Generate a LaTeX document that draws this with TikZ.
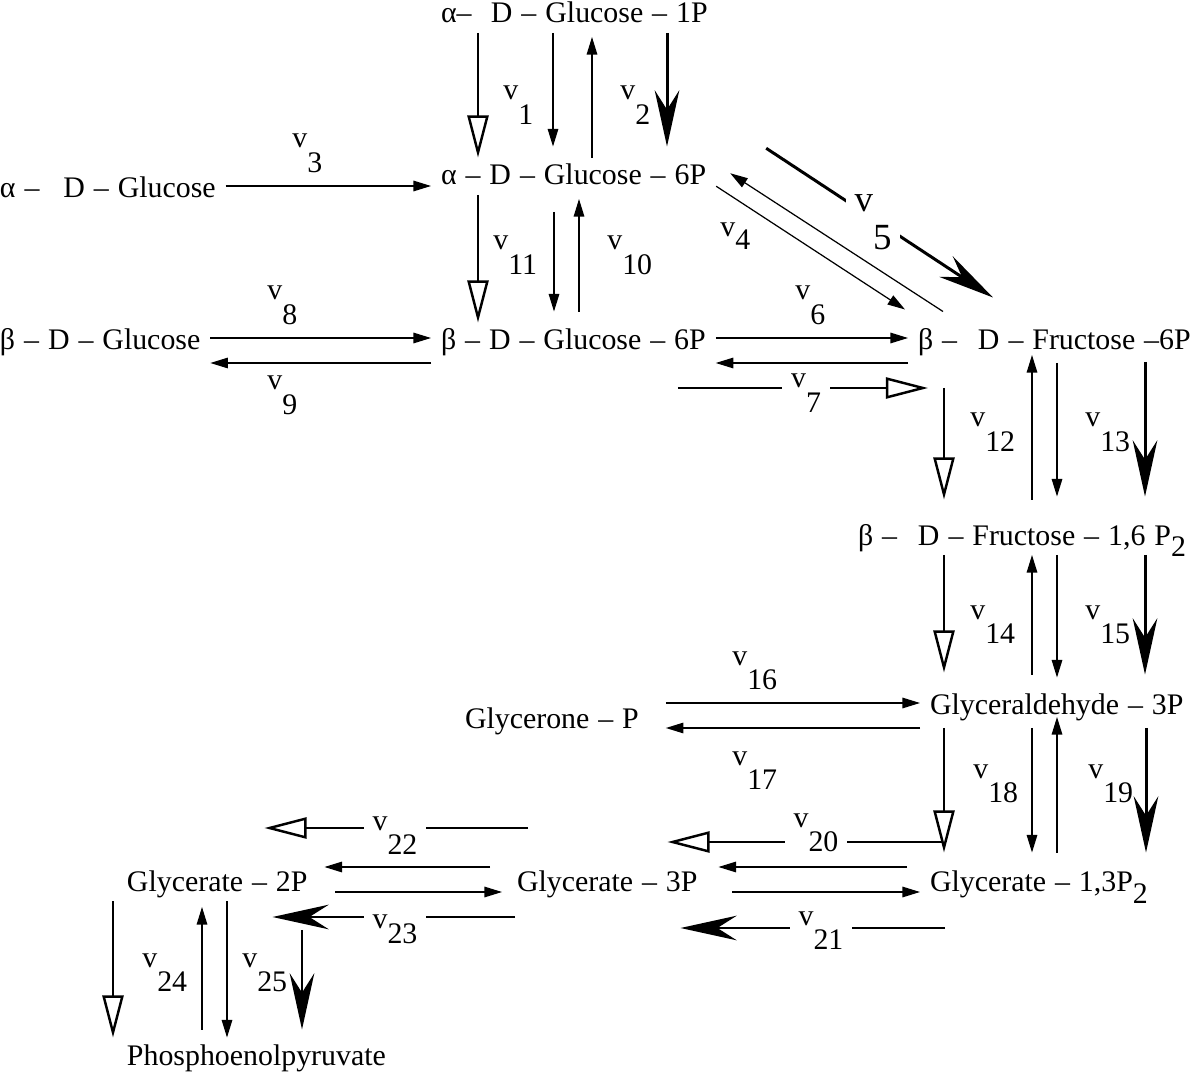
\documentclass[tikz,border=0pt]{standalone}
\usepackage{fontspec}
\setmainfont{Liberation Serif}[WordSpace=1.2]
\usetikzlibrary{arrows.meta}
\newcommand{\rate}[2][0.5cm]{v\raisebox{-#1}{#2}}
\newcommand{\lowsub}[1]{\raisebox{-0.24cm}{#1}}
\tikzset{
species/.style={anchor=base west, inner xsep=0.2cm, inner ysep=0.2cm,
    text height=0.35cm, text depth=0pt, outer sep=0pt},
rlab/.style={anchor=base west, inner sep=0pt},
glab/.style={anchor=base, inner xsep=5pt, inner ysep=1pt, fill=white},
fl/.style={line width=0.7pt, -{Triangle[length=10pt,width=6pt]}},
op/.style={line width=1.4pt, -{Triangle[open,length=24pt,width=12pt]}},
bk/.style={line width=1.7pt, -{Stealth[length=32pt,width=14pt,inset=11pt]}},
}

\begin{document}
\begin{tikzpicture}[x=0.02cm, y=-0.02cm, font=\fontsize{17}{20}\selectfont]
    \useasboundingbox (0,0) rectangle (1200,1077);
    \node[species] (g1p) at (431,23) {α--\hspace{0.65em}D -- Glucose -- 1P};
    \node[species] (g6pa) at (431,185) {α -- D -- Glucose -- 6P};
    \node[species] (aglc) at (-10,198) {α --\hspace{0.8em}D -- Glucose};
    \node[species] (bglc) at (-10,350) {β -- D -- Glucose};
    \node[species] (g6pb) at (431,350) {β -- D -- Glucose -- 6P};
    \node[species] (f6p) at (908,350) {β --\hspace{0.7em}D -- Fructose --6P};
    \node[species] (fbp) at (848,545) {β --\hspace{0.7em}D -- Fructose -- 1,6 P\lowsub{2}};
    \node[species] (dhap) at (455,728) {Glycerone -- P};
    \node[species] (gap) at (920,714) {Glyceraldehyde -- 3P};
    \node[species] (pg2) at (117,891) {Glycerate -- 2P};
    \node[species] (pg3) at (507,891) {Glycerate -- 3P};
    \node[species] (bpg) at (920,891) {Glycerate -- 1,3P\lowsub{2}};
    \node[species] (pep) at (117,1065) {Phosphoenolpyruvate};

    \draw[op] (478,0 |- g1p.south) -- (478,0 |- g6pa.north);
    \draw[fl, shorten >=0.22cm] (553,0 |- g1p.south) -- (553,0 |- g6pa.north);
    \draw[fl, shorten >=0.08cm] (592,0 |- g6pa.north) -- (592,0 |- g1p.south);
    \draw[bk, shorten >=0.22cm] (667,0 |- g1p.south) -- (667,0 |- g6pa.north);

    \draw[op] (478,0 |- g6pa.south) -- (478,0 |- g6pb.north);
    \draw[fl, shorten <=0.34cm, shorten >=0.22cm] (554,0 |- g6pa.south) -- (554,0 |- g6pb.north);
    \draw[fl, shorten <=0.22cm, shorten >=0.08cm] (579,0 |- g6pb.north) -- (579,0 |- g6pa.south);

    \draw[fl] (aglc.east |- 0,186) -- (g6pa.west |- 0,186);
    \draw[fl] (bglc.east |- 0,338) -- (g6pb.west |- 0,338);
    \draw[fl] (g6pb.west |- 0,363) -- (bglc.east |- 0,363);

    \draw[fl] (g6pb.east |- 0,338) -- (f6p.west |- 0,338);
    \draw[fl] (f6p.west |- 0,363) -- (g6pb.east |- 0,363);
    \draw[op, shorten <=-0.76cm, shorten >=-0.4cm] (g6pb.east |- 0,388) -- (f6p.west |- 0,388);

    \draw[bk] ([shift={(50,-28)}]g6pa.east) -- ([shift={(85,-25)}]f6p.north west);
    \node[glab, font=\fontsize{21}{24}\selectfont] (r5) at (873,212) {\rate[0.76cm]{5}};
    \draw[fl] ([shift={(35,-11)}]f6p.north west) -- ([shift={(14,-3)}]g6pa.east);
    \draw[fl] ([shift={(0,10)}]g6pa.east) -- ([shift={(-3,-13)}]f6p.north west);

    \draw[op, shorten <=0.56cm, shorten >=0.36cm] (944,0 |- f6p.south) -- (944,0 |- fbp.north);
    \draw[fl, shorten <=0.36cm, shorten >=-0.1cm] (1032,0 |- fbp.north) -- (1032,0 |- f6p.south);
    \draw[fl, shorten <=0.06cm, shorten >=0.42cm] (1057,0 |- f6p.south) -- (1057,0 |- fbp.north);
    \draw[bk, shorten <=0.04cm, shorten >=0.42cm] (1145,0 |- f6p.south) -- (1145,0 |- fbp.north);

    \draw[op, shorten >=0.28cm] (944,0 |- fbp.south) -- (944,0 |- gap.north);
    \draw[fl, shorten <=0.24cm] (1032,0 |- gap.north) -- (1032,0 |- fbp.south);
    \draw[fl, shorten >=0.18cm] (1057,0 |- fbp.south) -- (1057,0 |- gap.north);
    \draw[bk, shorten >=0.24cm] (1145,0 |- fbp.south) -- (1145,0 |- gap.north);

    \draw[op, shorten <=0.08cm, shorten >=0.22cm] (944,0 |- gap.south) -- (944,0 |- bpg.north);
    \draw[fl, shorten <=0.08cm, shorten >=0.22cm] (1032,0 |- gap.south) -- (1032,0 |- bpg.north);
    \draw[fl, shorten <=0.22cm, shorten >=-0.14cm] (1057,0 |- bpg.north) -- (1057,0 |- gap.south);
    \draw[bk, shorten <=0.08cm, shorten >=0.22cm] (1146,0 |- gap.south) -- (1146,0 |- bpg.north);

    \draw[fl, shorten <=0.34cm] (dhap.east |- 0,703) -- (gap.west |- 0,703);
    \draw[fl, shorten >=0.34cm] (gap.west |- 0,728) -- (dhap.east |- 0,728);

    \draw[op, shorten <=-0.46cm, shorten >=-0.8cm] (bpg.west |- 0,842) -- (pg3.east |- 0,842);
    \draw[fl, shorten <=0.26cm, shorten >=0.22cm] (bpg.west |- 0,867) -- (pg3.east |- 0,867);
    \draw[fl, shorten <=0.5cm] (pg3.east |- 0,892) -- (bpg.west |- 0,892);
    \draw[bk, shorten <=-0.5cm, shorten >=-0.54cm] (bpg.west |- 0,928) -- (pg3.east |- 0,928);

    \draw[op, shorten <=-0.42cm, shorten >=-1.06cm] (pg3.west |- 0,828) -- (pg2.east |- 0,828);
    \draw[fl, shorten <=0.34cm, shorten >=0.14cm] (pg3.west |- 0,867) -- (pg2.east |- 0,867);
    \draw[fl, shorten <=0.36cm, shorten >=0.1cm] (pg2.east |- 0,892) -- (pg3.west |- 0,892);
    \draw[bk, shorten <=-0.16cm, shorten >=-0.9cm] (pg3.west |- 0,917) -- (pg2.east |- 0,917);

    \draw[op] (113,0 |- pg2.south) -- (113,0 |- pep.north);
    \draw[fl, shorten <=0.16cm, shorten >=0.12cm] (202,0 |- pep.north) -- (202,0 |- pg2.south);
    \draw[fl] (227,0 |- pg2.south) -- (227,0 |- pep.north);
    \draw[bk, shorten <=0.58cm, shorten >=0.16cm] (302,0 |- pg2.south) -- (302,0 |- pep.north);

    \node[rlab] (r1) at (503,100) {\rate{1}};
    \node[rlab] (r2) at (620,100) {\rate{2}};
    \node[rlab] (r3) at (292,148) {\rate{3}};
    \node[rlab] (r4) at (720,237) {\rate[0.26cm]{4}};
    \node[rlab] (r6) at (795,300) {\rate{6}};
    \node[glab] (r7) at (806,388) {\rate{7}};
    \node[rlab] (r8) at (267,300) {\rate{8}};
    \node[rlab] (r9) at (267,390) {\rate{9}};
    \node[rlab] (r10) at (607,250) {\rate{10}};
    \node[rlab] (r11) at (493,250) {\rate{11}};
    \node[rlab] (r12) at (970,427) {\rate{12}};
    \node[rlab] (r13) at (1085,427) {\rate{13}};
    \node[rlab] (r14) at (970,619) {\rate{14}};
    \node[rlab] (r15) at (1085,619) {\rate{15}};
    \node[rlab] (r16) at (732,665) {\rate{16}};
    \node[rlab] (r17) at (732,765) {\rate{17}};
    \node[rlab] (r18) at (973,778) {\rate{18}};
    \node[rlab] (r19) at (1088,778) {\rate{19}};
    \node[glab] (r20) at (816,827) {\rate{20}};
    \node[glab] (r21) at (821,925) {\rate{21}};
    \node[glab] (r22) at (395,830) {\rate{22}};
    \node[glab] (r23) at (395,928) {\rate[0.3cm]{23}};
    \node[rlab] (r24) at (142,967) {\rate{24}};
    \node[rlab] (r25) at (242,967) {\rate{25}};
\end{tikzpicture}
\end{document}
